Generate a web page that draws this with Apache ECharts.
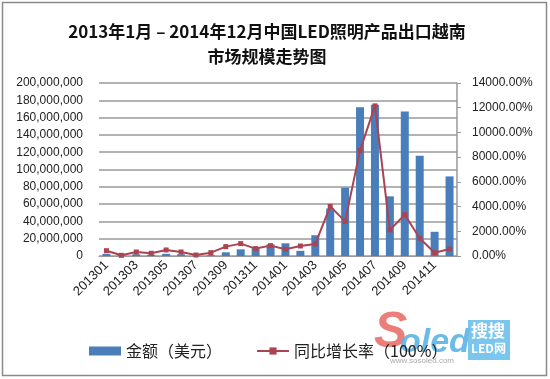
<!DOCTYPE html>
<html><head><meta charset="utf-8">
<script src="https://cdn.jsdelivr.net/npm/echarts@6/dist/echarts.min.js"></script>
<style>html,body{margin:0;padding:0;background:#fff}#c{width:550px;height:379px}</style>
</head><body><div id="c"></div>
<script>
var categories = ['201301','201302','201303','201304','201305','201306','201307','201308','201309','201310','201311','201312',
  '201401','201402','201403','201404','201405','201406','201407','201408','201409','201410','201411','201412'];
var amountUSD = [2500000,1000000,2000000,1500000,2500000,2000000,500000,1000000,4300000,7700000,9000000,13500000,
  14700000,6000000,24000000,55000000,79000000,172000000,175000000,69000000,167000000,116000000,28000000,92000000];
var growthPct = [430,55,325,220,490,325,80,270,760,1000,600,840,545,810,975,4015,2800,8550,12150,2115,3340,1440,270,570];
var titleText = '2013年1月 – 2014年12月中国LED照明产品出口越南\n市场规模走势图';
var seriesNames = ['金额（美元）','同比增长率（100%）'];

var chart = echarts.init(document.getElementById('c'));
var font = '"Liberation Sans", Arial, sans-serif';
chart.setOption({
  animation:false,
  backgroundColor:'#fff',
  title:{text:titleText,left:262,top:14,textAlign:'center',
    textStyle:{fontFamily:'"Noto Sans CJK SC", sans-serif',fontSize:17,fontWeight:'bold',color:'#111',lineHeight:25}},
  legend:{bottom:15,left:84,itemGap:34,itemWidth:32,itemHeight:9,
    textStyle:{fontFamily:'"Noto Sans CJK SC", sans-serif',fontSize:16,color:'#222'},
    data:[{name:seriesNames[0],icon:'rect'},{name:seriesNames[1]}]},
  grid:{left:99,right:93,top:83,bottom:123},
  xAxis:{type:'category',data:categories,
    axisLine:{show:true,lineStyle:{color:'#999',width:1}},axisTick:{show:false},
    axisLabel:{interval:1,rotate:45,fontFamily:font,fontSize:13,color:'#222',margin:7}},
  yAxis:[
    {type:'value',min:0,max:200000000,interval:20000000,
     axisLine:{show:false},axisTick:{show:false},
     splitLine:{lineStyle:{color:'#9a9a9a',width:1.5}},
     axisLabel:{fontFamily:font,fontSize:12,color:'#222',margin:16,
       formatter:function(v){return v.toLocaleString('en-US');}}},
    {type:'value',min:0,max:14000,interval:2000,position:'right',
     axisLine:{show:true,lineStyle:{color:'#999',width:1.5}},
     axisTick:{show:true,length:4,lineStyle:{color:'#999'}},
     splitLine:{show:false},
     axisLabel:{fontFamily:font,fontSize:12,color:'#222',margin:15,
       formatter:function(v){return v.toFixed(2)+'%';}}}
  ],
  series:[
    {name:seriesNames[0],type:'bar',data:amountUSD,barWidth:8,yAxisIndex:0,
     itemStyle:{color:'#4a7ebb'}},
    {name:seriesNames[1],type:'line',data:growthPct,yAxisIndex:1,symbol:'rect',symbolSize:5,
     lineStyle:{color:'#ac4350',width:2},itemStyle:{color:'#ac4350'}}
  ],
  graphic:[
    {type:'rect',shape:{x:2.5,y:2.5,width:544,height:373},style:{fill:'none',stroke:'#8a8a8a',lineWidth:1.5},silent:true},
    {type:'text',left:374,top:308,style:{text:'S',font:'italic bold 50px "Liberation Sans", sans-serif',fill:'#e9706a',opacity:0.9},silent:true},
    {type:'text',left:400,top:326,style:{text:'oled',font:'italic bold 34px "Liberation Sans", sans-serif',fill:'#5bb4e6',opacity:0.9},silent:true},
    {type:'rect',shape:{x:468,y:320,width:42,height:40},style:{fill:'#6cc0ec',opacity:0.9},silent:true},
    {type:'text',left:471,top:322,style:{text:'搜搜',font:'bold 17px "Noto Sans CJK SC", sans-serif',fill:'#fff'},silent:true},
    {type:'text',left:471,top:342,style:{text:'LED网',font:'bold 12px "Noto Sans CJK SC", sans-serif',fill:'#fff'},silent:true},
    {type:'text',left:390,top:357,style:{text:'www.sosoled.com',font:'8px "Liberation Sans", sans-serif',fill:'#aaa'},silent:true}
  ]
});
</script></body></html>
